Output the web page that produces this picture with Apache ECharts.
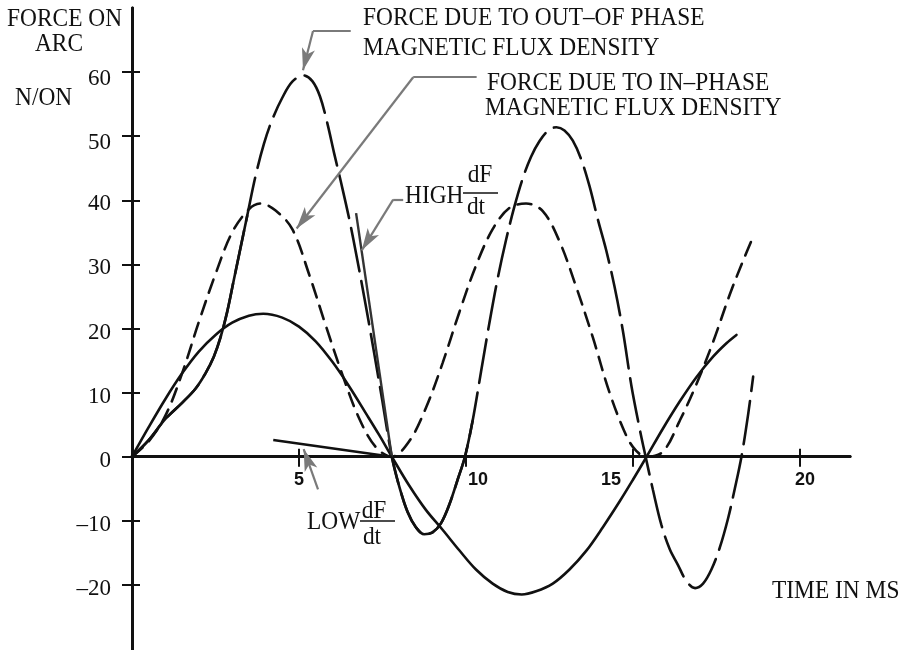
<!DOCTYPE html>
<html>
<head>
<meta charset="utf-8">
<script src="https://cdn.jsdelivr.net/npm/echarts@6/dist/echarts.min.js"></script>
<style>html,body{margin:0;padding:0;background:#fff;}#c{width:904px;height:650px;}</style>
</head>
<body>
<div id="c"></div>
<script>
// ---- data (time in ms, force in N/ON) ----
const xTicks = [5, 10, 15, 20];
const yTicks = [-20, -10, 0, 10, 20, 30, 40, 50, 60];

// solid curve
const solidCurve = [[0,0],[0.5,4.6],[1.0,9.0],[1.5,13.0],[2.0,16.4],[2.5,19.0],[3.0,20.9],[3.5,22.0],[3.93,22.3],[4.5,21.7],[5.0,20.3],
  [5.5,18.0],[6.0,14.8],[6.5,11.0],[7.0,6.8],[7.4,3.4],[7.78,0],
  [8.3,-4.5],[8.8,-8.3],[9.3,-11.4],[9.8,-14.6],[10.3,-17.6],[10.8,-19.8],[11.25,-21.1],[11.67,-21.5],[12.1,-21.0],[12.6,-19.8],
  [13.1,-17.6],[13.6,-14.7],[14.1,-11.0],[14.6,-7.0],[15.0,-3.6],[15.41,0],
  [15.9,4.4],[16.4,8.6],[16.9,12.4],[17.4,15.6],[17.8,17.7],[18.1,19.0]];

// short-dashed curve (in-phase flux density)
const inPhaseCurve = [[0,0],[0.5,2.4],[1.0,6.4],[1.5,13.0],[2.0,21.0],[2.5,28.5],[3.0,35.0],[3.5,38.6],[3.85,39.5],[4.3,38.4],[4.8,35.5],
  [5.3,28.5],[5.8,20.5],[6.3,12.8],[6.8,6.0],[7.3,1.5],[7.78,0],
  [8.3,2.4],[8.8,7.6],[9.3,14.6],[9.8,22.5],[10.3,29.8],[10.8,35.5],[11.3,38.8],[11.8,39.5],[12.3,38.3],[12.8,33.6],[13.3,26.5],
  [13.8,18.6],[14.3,10.0],[14.8,3.3],[15.1,0.9],[15.41,0],
  [15.9,0.8],[16.4,5.6],[16.9,11.3],[17.4,17.9],[17.9,25.3],[18.3,30.6],[18.6,34.3]];

// long-dashed curve (out-of-phase flux density)
const outPhaseCurve = [[0,0],[0.5,2.6],[1.0,5.9],[1.5,8.4],[1.9,10.6],[2.2,13.0],[2.45,15.6],[2.65,18.6],[2.85,22.6],[3.05,27.6],[3.25,32.6],
  [3.45,37.6],[3.7,43.8],[3.95,48.8],[4.2,52.6],[4.5,56.0],[4.8,58.5],[5.13,59.5],[5.4,58.6],[5.63,56.2],[5.85,52.0],[6.05,47.4],
  [6.25,43.0],[6.5,37.2],[6.75,30.6],[7.0,23.6],[7.25,16.2],[7.5,8.6],[7.78,0],
  [8.0,-4.6],[8.25,-8.6],[8.5,-11.0],[8.75,-12.1],[9.0,-11.8],[9.25,-10.4],[9.5,-7.5],[9.75,-3.6],[9.97,0],
  [10.2,5.6],[10.45,13.2],[10.7,20.8],[10.95,27.8],[11.2,33.8],[11.45,39.0],[11.7,43.4],[11.95,46.8],[12.2,49.2],[12.45,50.8],[12.71,51.4],
  [12.95,50.9],[13.2,49.3],[13.45,46.4],[13.7,42.2],[13.95,37.0],[14.2,32.2],[14.45,26.5],[14.7,19.6],[14.95,11.2],[15.2,4.4],[15.38,0],
  [15.6,-5.2],[15.85,-10.6],[16.1,-14.4],[16.35,-16.9],[16.6,-19.4],[16.86,-20.5],[17.1,-19.8],[17.35,-17.6],[17.6,-14.2],[17.85,-9.6],
  [18.05,-5.0],[18.25,0],[18.45,6.6],[18.6,12.5]];

// stretches of the long-dashed curve that are drawn unbroken (time ranges)
const outPhaseSolidSpans = [[0, 3.45], [7.78, 10.2]];

// tangent lines
const highTangent = [[6.71,38.0],[7.78,0]];
const lowTangent = [[4.23,2.6],[7.78,0]];

// leader lines (annotation arrows) in data coordinates
const leaderOut = [[6.55,66.4],[5.42,66.4],[5.12,60.3]];
const leaderIn = [[10.32,59.2],[8.42,59.2],[4.93,35.6]];
const leaderHigh = [[8.12,40.1],[7.82,40.1],[6.88,32.2]];
const leaderLow = [[5.57,-5.1],[5.14,1.2]];

// axis ranges
const xMin = 0, xMax = 21.5, yMin = -30, yMax = 70;

// ---- chart ----
const W = 904, H = 650;
const gridLeft = 132, gridRight = 54, gridTop = 8, gridBottom = 1;
const gridH = H - gridTop - gridBottom;
// x axis sits on y = 0: move it up from the grid bottom
const xAxisOffset = -gridH * (0 - yMin) / (yMax - yMin);

const ink = '#111';
const serif = '"Liberation Serif", "DejaVu Serif", serif';
const sans = '"Liberation Sans", Arial, sans-serif';
const chart = echarts.init(document.getElementById('c'), null, {renderer: 'canvas'});

function leader(pts) {
  const items = [];
  for (let i = 0; i < pts.length - 1; i++) {
    const last = i === pts.length - 2;
    items.push([
      {coord: pts[i], symbol: 'none'},
      {coord: pts[i + 1], symbol: last ? 'arrow' : 'none', symbolSize: [10, 22]}
    ]);
  }
  return items;
}

function text(t, x, y, align) {
  return {
    type: 'text', x: x, y: y, scaleX: 0.9, silent: true,
    style: {text: t, fontFamily: serif, fontSize: 26, fill: ink, align: align || 'left', verticalAlign: 'middle'}
  };
}

const graphics = [
  text('FORCE ON', 7, 19),
  text('ARC', 59, 44, 'center'),
  text('N/ON', 15, 98),
  text('FORCE DUE TO OUT–OF PHASE', 363, 18),
  text('MAGNETIC FLUX DENSITY', 363, 48),
  text('FORCE DUE TO IN–PHASE', 487, 83),
  text('MAGNETIC FLUX DENSITY', 485, 108),
  text('HIGH', 405, 196),
  text('dF', 480, 175, 'center'),
  text('dt', 476, 207, 'center'),
  {type: 'line', silent: true, shape: {x1: 463, y1: 193, x2: 498, y2: 193}, style: {stroke: ink, lineWidth: 1.5}},
  text('LOW', 307, 522),
  text('dF', 374, 511, 'center'),
  text('dt', 372, 537, 'center'),
  {type: 'line', silent: true, shape: {x1: 360, y1: 521, x2: 395, y2: 521}, style: {stroke: ink, lineWidth: 1.5}},
  text('TIME IN MS', 772, 591)
];

function xAxisDef(inside, withLabels) {
  const lab = {fontFamily: sans, fontWeight: 'bold', fontSize: 18, color: ink};
  return {
    type: 'value', min: xMin, max: xMax, position: 'bottom', offset: xAxisOffset,
    axisLine: {show: true, onZero: false, lineStyle: {color: ink, width: 3}},
    axisTick: {show: true, inside: inside, length: inside ? 8 : 10, customValues: xTicks, lineStyle: {color: ink, width: 2}},
    axisLabel: withLabels ? {
      show: true, customValues: xTicks, margin: 14,
      fontFamily: sans, fontWeight: 'bold', fontSize: 18, color: ink,
      formatter: function (v) {
        if (v === 10) return '{r|10}';
        if (v === 15) return '{l|15}';
        if (v === 20) return '{s|20}';
        return '{n|' + v + '}';
      },
      rich: {
        n: lab,
        r: Object.assign({padding: [0, 0, 0, 24]}, lab),
        l: Object.assign({padding: [0, 44, 0, 0]}, lab),
        s: Object.assign({padding: [0, 0, 0, 10]}, lab)
      }
    } : {show: false},
    splitLine: {show: false}
  };
}

function yAxisDef(inside, withLabels) {
  const lab = {fontFamily: serif, fontSize: 23, color: ink};
  return {
    type: 'value', min: yMin, max: yMax, position: 'left',
    axisLine: {show: true, onZero: false, lineStyle: {color: ink, width: 3}},
    axisTick: {show: true, inside: inside, length: inside ? 8 : 10, customValues: yTicks, lineStyle: {color: ink, width: 2}},
    axisLabel: withLabels ? {
      show: true, customValues: yTicks, margin: 21, padding: [8, 0, 0, 0],
      fontFamily: serif, fontSize: 23, color: ink,
      formatter: function (v) {
        const s = String(v).replace('-', '–');
        return v >= 50 ? '{lo|' + s + '}' : '{n|' + s + '}';
      },
      rich: {
        n: lab,
        lo: Object.assign({padding: [5, 0, 0, 0]}, lab)
      }
    } : {show: false},
    splitLine: {show: false}
  };
}

function curve(name, data, dash, extra) {
  return Object.assign({
    name: name, type: 'line', data: data, smooth: 0.35, showSymbol: false, symbol: 'none',
    silent: true, animation: false, clip: false,
    lineStyle: {color: ink, width: 2.6, type: dash, cap: 'round'}
  }, extra || {});
}

const markStyle = {color: '#7a7a7a', width: 2.2, type: 'solid'};

const solidOverlays = outPhaseSolidSpans.map(function (span, i) {
  return curve('out-of-phase unbroken ' + i,
    outPhaseCurve.filter(function (p) { return p[0] >= span[0] && p[0] <= span[1]; }), 'solid');
});

chart.setOption({
  animation: false,
  backgroundColor: '#fff',
  grid: {left: gridLeft, right: gridRight, top: gridTop, bottom: gridBottom, containLabel: false, outerBoundsMode: 'none'},
  xAxis: [xAxisDef(false, true), xAxisDef(true, false)],
  yAxis: [yAxisDef(false, true), yAxisDef(true, false)],
  graphic: graphics,
  series: [
    curve('solid', solidCurve, 'solid', {
      markLine: {
        silent: true, animation: false, symbol: 'none',
        label: {show: false},
        lineStyle: markStyle,
        emphasis: {disabled: true},
        data: [].concat(leader(leaderOut), leader(leaderIn), leader(leaderHigh), leader(leaderLow))
      }
    }),
    curve('in-phase', inPhaseCurve, [14, 9]),
    curve('out-of-phase', outPhaseCurve, [44, 10])
  ].concat(solidOverlays, [
    curve('high dF/dt', highTangent, 'solid', {smooth: false, lineStyle: {color: '#333', width: 2.4}}),
    curve('low dF/dt', lowTangent, 'solid', {smooth: false, lineStyle: {color: ink, width: 2.6}})
  ])
});
</script>
</body>
</html>
